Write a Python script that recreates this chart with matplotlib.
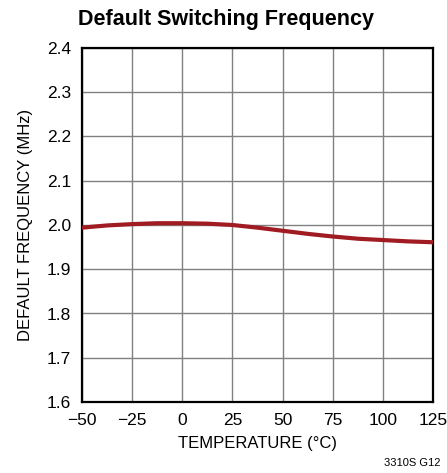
import matplotlib
matplotlib.use("Agg")
import matplotlib.pyplot as plt
from matplotlib import font_manager

temps = [-50, -37.5, -25, -12.5, 0, 12.5, 25, 37.5, 50, 62.5, 75, 87.5, 100, 112.5, 125]
freq = [1.994, 1.999, 2.002, 2.004, 2.004, 2.003, 2.000, 1.994, 1.987, 1.980, 1.974, 1.969, 1.966, 1.963, 1.961]
xticks = [-50, -25, 0, 25, 50, 75, 100, 125]
xticklabels = ["\u221250", "\u221225", "0", "25", "50", "75", "100", "125"]
yticks = [1.6, 1.7, 1.8, 1.9, 2.0, 2.1, 2.2, 2.3, 2.4]

names = {f.name for f in font_manager.fontManager.ttflist}
fam = ["Liberation Sans Narrow", "DejaVu Sans"] if "Liberation Sans Narrow" in names else ["Liberation Sans", "DejaVu Sans"]
plt.rcParams['font.family'] = fam

fig = plt.figure(figsize=(4.47, 4.73), dpi=100)
ax = fig.add_axes([82/447, 1-402/473, (433-82)/447, (402-48)/473])
ax.plot(temps, freq, color="#A01C22", lw=3, solid_capstyle="butt", zorder=3)
ax.set_xlim(-50, 125)
ax.set_ylim(1.6, 2.4)
ax.set_xticks(xticks)
ax.set_xticklabels(xticklabels)
ax.set_yticks(yticks)
ax.set_yticklabels([f"{v:.1f}" for v in yticks])
ax.grid(True, color="#808080", lw=1)
ax.tick_params(axis="x", length=0, labelsize=12.5, pad=8)
ax.tick_params(axis="y", length=0, labelsize=12.5, pad=8)
for s in ax.spines.values():
    s.set_linewidth(1.6)
    s.set_color("black")
ax.set_xlabel("TEMPERATURE (\u00b0C)", fontsize=12, labelpad=6)
ax.set_ylabel("DEFAULT FREQUENCY (MHz)", fontsize=12, labelpad=10)
fig.text(226/447, 1-20/473, "Default Switching Frequency", ha="center", va="center", fontsize=15.5, fontweight="bold")
fig.text(440/447, 1-463/473, "3310S G12", ha="right", va="center", fontsize=8)
fig.savefig("out.png", dpi=100)
